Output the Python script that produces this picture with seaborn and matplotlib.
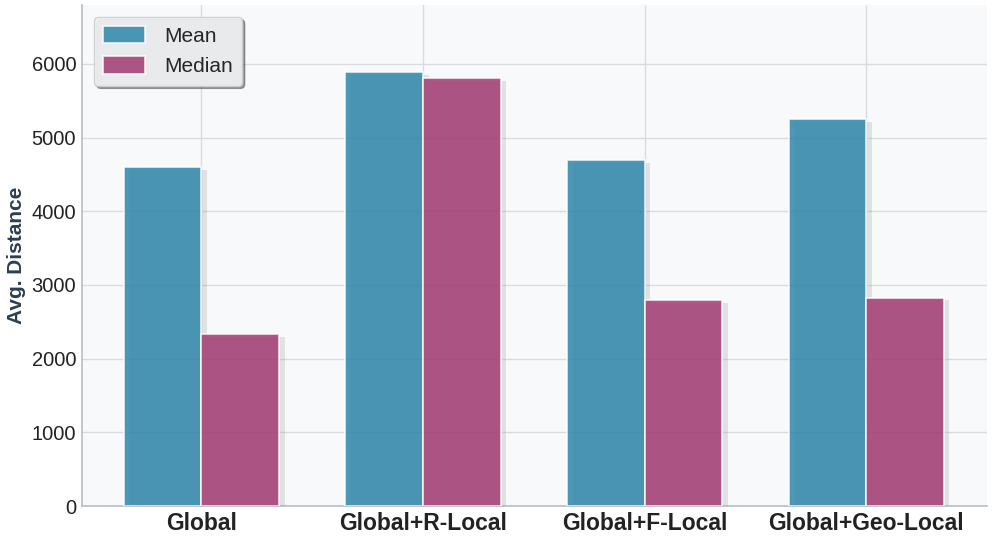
import matplotlib
matplotlib.use("Agg")
import matplotlib.pyplot as plt
import matplotlib.patheffects as pe
import seaborn as sns
import pandas as pd

methods = ["Global", "Global+R-Local", "Global+F-Local", "Global+Geo-Local"]
mean_vals = [4600, 5890, 4690, 5250]
median_vals = [2330, 5810, 2790, 2830]
series = ["Mean", "Median"]
colors = ["#2E86AB", "#A23B72"]
yticks = [0, 1000, 2000, 3000, 4000, 5000, 6000]

df = pd.DataFrame({
    "Method": methods * 2,
    "Stat": ["Mean"] * len(methods) + ["Median"] * len(methods),
    "Value": mean_vals + median_vals,
})

sns.set_theme(style="whitegrid")
plt.rcParams["font.family"] = ["Liberation Sans", "DejaVu Sans"]

fig = plt.figure(figsize=(9.97, 5.39), dpi=100)
ax = fig.add_axes([0.082, 0.061, 0.908, 0.93])
ax.set_facecolor("#f8f9fb")

sns.barplot(data=df, x="Method", y="Value", hue="Stat", hue_order=series,
            palette=colors, saturation=1, width=0.7, alpha=0.85, edgecolor="white",
            linewidth=1.2, ax=ax, zorder=3)

for p in ax.patches:
    p.set_path_effects([pe.SimplePatchShadow(offset=(4, -2), shadow_rgbFace="#9a9a9a", alpha=0.25),
                        pe.Normal()])

ax.set_ylim(0, 6800)
ax.set_xlim(-0.54, 3.545)
ax.set_yticks(yticks)
ax.set_yticklabels([str(t) for t in yticks], fontsize=14.5, color="#222222")
ax.set_xticks(range(len(methods)))
ax.set_xticklabels(methods, fontsize=16.5, fontweight="bold", color="#222222")
ax.set_xlabel("")
ax.set_ylabel("Avg. Distance", fontsize=15, fontweight="bold", color="#2c3e50")
ax.tick_params(axis="both", length=0, pad=4)

ax.grid(True, color="#d9dbe0", linewidth=1.0, zorder=0)
ax.set_axisbelow(True)
for s in ["top", "right"]:
    ax.spines[s].set_visible(False)
for s in ["left", "bottom"]:
    ax.spines[s].set_color("#b8bec6")
    ax.spines[s].set_linewidth(1.2)

leg = ax.legend(loc="upper left", fontsize=15, frameon=True, fancybox=True,
                shadow=True, framealpha=0.9, borderpad=0.45,
                handlelength=2.0, handleheight=0.9, handletextpad=0.9,
                bbox_to_anchor=(0.002, 0.997))
leg.get_frame().set_facecolor("#f2f3f5")
leg.get_frame().set_edgecolor("#cccccc")
for h in leg.legend_handles:
    h.set_path_effects([])
    h.set_edgecolor("white")
    h.set_linewidth(1.2)

fig.savefig("out.png", dpi=100)
